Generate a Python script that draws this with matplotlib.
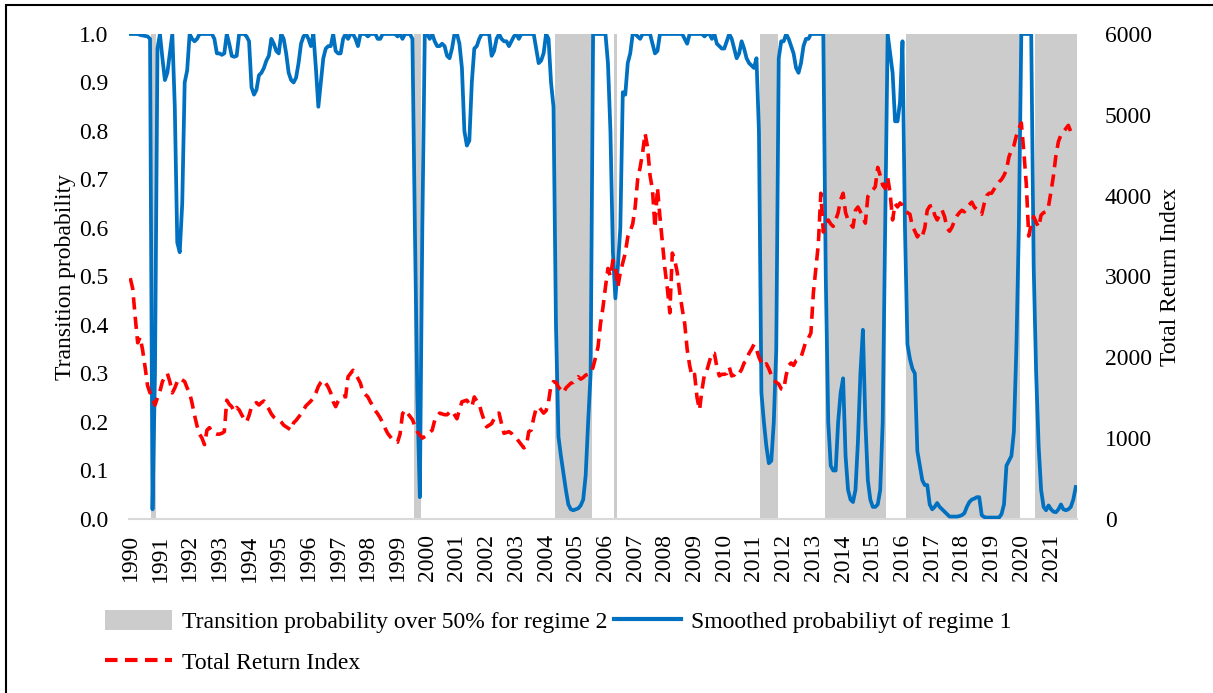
import numpy as np
import pandas as pd
import matplotlib
matplotlib.use("Agg")
import matplotlib.pyplot as plt
from matplotlib.patches import Rectangle, Patch
from matplotlib.lines import Line2D

plt.rcParams['font.family'] = ['Liberation Serif', 'DejaVu Serif']

# smoothed probability of regime 1, monthly, one row per year (Jan 1990 - Nov 2021)
prob_rows = [
    [1.0, 1.0, 1.0, 1.0, 0.998, 0.997, 0.996, 0.995, 0.99, 0.02, 0.3, 0.97],
    [1.0, 0.95, 0.905, 0.92, 0.96, 1.0, 0.85, 0.57, 0.55, 0.65, 0.9, 0.925],
    [1.0, 0.99, 0.985, 0.99, 1.0, 1.0, 1.0, 1.0, 1.0, 1.0, 0.99, 0.96],
    [0.96, 0.957, 0.96, 1.0, 0.98, 0.955, 0.953, 0.955, 1.0, 1.0, 1.0, 0.995],
    [0.985, 0.89, 0.875, 0.885, 0.915, 0.92, 0.93, 0.945, 0.955, 0.99, 0.98, 0.965],
    [0.96, 1.0, 0.99, 0.96, 0.92, 0.905, 0.9, 0.91, 0.94, 0.98, 0.995, 1.0],
    [0.99, 0.975, 1.0, 0.93, 0.85, 0.9, 0.95, 0.97, 0.975, 0.975, 1.0, 0.965],
    [0.96, 0.96, 0.99, 1.0, 0.99, 1.0, 1.0, 0.99, 0.975, 1.0, 1.0, 1.0],
    [0.995, 1.0, 1.0, 1.0, 0.99, 0.99, 1.0, 1.0, 1.0, 1.0, 1.0, 1.0],
    [0.995, 1.0, 0.99, 1.0, 1.0, 1.0, 0.99, 0.6, 0.25, 0.045, 0.6, 1.0],
    [1.0, 0.99, 1.0, 0.985, 0.975, 0.975, 0.98, 0.975, 0.955, 0.95, 0.97, 1.0],
    [1.0, 0.98, 0.93, 0.8, 0.77, 0.78, 0.9, 0.97, 0.975, 0.99, 1.0, 1.0],
    [1.0, 1.0, 0.955, 0.965, 0.99, 1.0, 0.99, 0.985, 0.985, 0.975, 0.985, 0.995],
    [1.0, 0.99, 1.0, 1.0, 1.0, 1.0, 1.0, 1.0, 0.97, 0.94, 0.945, 0.96],
    [1.0, 0.99, 0.9, 0.85, 0.4, 0.17, 0.13, 0.095, 0.06, 0.03, 0.02, 0.018],
    [0.02, 0.022, 0.028, 0.04, 0.09, 0.2, 0.3, 1.0, 1.0, 1.0, 1.0, 1.0],
    [1.0, 0.94, 0.8, 0.55, 0.455, 0.52, 0.6, 0.88, 0.875, 0.94, 0.96, 1.0],
    [1.0, 0.995, 0.99, 1.0, 1.0, 1.0, 1.0, 0.98, 0.96, 0.965, 1.0, 1.0],
    [1.0, 1.0, 1.0, 1.0, 1.0, 1.0, 1.0, 1.0, 0.99, 0.98, 1.0, 1.0],
    [1.0, 1.0, 1.0, 1.0, 0.995, 1.0, 1.0, 0.99, 1.0, 0.98, 0.975, 0.97],
    [0.97, 0.985, 1.0, 0.99, 0.97, 0.95, 0.96, 0.985, 0.97, 0.95, 0.94, 0.935],
    [0.93, 0.95, 0.8, 0.26, 0.2, 0.15, 0.115, 0.12, 0.2, 0.35, 0.95, 0.985],
    [0.985, 1.0, 0.99, 0.975, 0.96, 0.93, 0.92, 0.94, 0.975, 0.99, 0.99, 1.0],
    [1.0, 1.0, 1.0, 1.0, 1.0, 0.5, 0.2, 0.11, 0.1, 0.1, 0.2, 0.26],
    [0.29, 0.13, 0.06, 0.04, 0.035, 0.06, 0.16, 0.3, 0.39, 0.2, 0.08, 0.04],
    [0.025, 0.025, 0.03, 0.06, 0.2, 0.6, 1.0, 0.96, 0.92, 0.82, 0.82, 0.86],
    [0.985, 0.6, 0.36, 0.33, 0.31, 0.3, 0.14, 0.11, 0.08, 0.07, 0.07, 0.03],
    [0.02, 0.025, 0.033, 0.025, 0.02, 0.015, 0.01, 0.005, 0.005, 0.005, 0.005, 0.006],
    [0.008, 0.012, 0.025, 0.035, 0.04, 0.042, 0.045, 0.045, 0.008, 0.004, 0.003, 0.003],
    [0.003, 0.003, 0.003, 0.003, 0.01, 0.03, 0.11, 0.12, 0.13, 0.18, 0.35, 0.6],
    [1.0, 1.0, 1.0, 1.0, 1.0, 0.52, 0.3, 0.15, 0.06, 0.025, 0.018, 0.028],
    [0.02, 0.015, 0.014, 0.02, 0.03, 0.02, 0.018, 0.02, 0.025, 0.04, 0.066],
]

# total return index, monthly, one row per year
tri_rows = [
    [2980, 2850, 2500, 2180, 2250, 2090, 1880, 1650, 1560, 1500, 1410, 1500],
    [1580, 1700, 1760, 1800, 1700, 1560, 1620, 1700, 1740, 1720, 1700, 1620],
    [1560, 1430, 1280, 1150, 1050, 1000, 920, 1100, 1130, 1080, 1060, 1050],
    [1050, 1060, 1080, 1470, 1420, 1390, 1330, 1380, 1350, 1290, 1240, 1200],
    [1280, 1390, 1420, 1440, 1410, 1440, 1460, 1400, 1360, 1300, 1260, 1240],
    [1230, 1200, 1160, 1140, 1120, 1100, 1190, 1220, 1260, 1300, 1350, 1400],
    [1430, 1460, 1500, 1560, 1640, 1690, 1720, 1680, 1630, 1560, 1450, 1390],
    [1460, 1510, 1520, 1510, 1760, 1800, 1840, 1800, 1740, 1680, 1570, 1540],
    [1510, 1450, 1400, 1340, 1300, 1250, 1190, 1120, 1060, 1020, 980, 960],
    [950, 1050, 1300, 1350, 1310, 1270, 1230, 1150, 1080, 1040, 1000, 1020],
    [1040, 1070, 1100, 1220, 1270, 1310, 1300, 1290, 1290, 1320, 1340, 1290],
    [1240, 1350, 1450, 1460, 1470, 1420, 1390, 1510, 1460, 1420, 1310, 1220],
    [1140, 1160, 1180, 1240, 1300, 1310, 1180, 1060, 1070, 1080, 1060, 1020],
    [1000, 960, 920, 880, 900, 1080, 1100, 1250, 1370, 1390, 1350, 1310],
    [1340, 1450, 1660, 1700, 1690, 1630, 1600, 1560, 1620, 1650, 1680, 1690],
    [1720, 1760, 1730, 1750, 1780, 1790, 1800, 1880, 2000, 2130, 2420, 2620],
    [2870, 3100, 3000, 3200, 3120, 2870, 3050, 3170, 3290, 3490, 3560, 3650],
    [3860, 4200, 4350, 4530, 4770, 4600, 4250, 4070, 3600, 4100, 3740, 3420],
    [3100, 2850, 2550, 3290, 3200, 3050, 2800, 2600, 2420, 2100, 1900, 1760],
    [1790, 1500, 1350, 1600, 1790, 1840, 1950, 2050, 2050, 1880, 1770, 1790],
    [1790, 1800, 1880, 1770, 1780, 1820, 1800, 1850, 1930, 1960, 2050, 2100],
    [2160, 2100, 2000, 1930, 1890, 1920, 1860, 1780, 1720, 1690, 1670, 1610],
    [1600, 1780, 1900, 1930, 1900, 1960, 1980, 2000, 2100, 2200, 2240, 2300],
    [2800, 3100, 3400, 4030, 3550, 3660, 3700, 3650, 3620, 3700, 3790, 3950],
    [4030, 3790, 3700, 3650, 3610, 3820, 3860, 3800, 3740, 3660, 3990, 4030],
    [4070, 4110, 4350, 4250, 4130, 4090, 4230, 4030, 3700, 3900, 3860, 3910],
    [3880, 3820, 3790, 3770, 3620, 3560, 3490, 3540, 3500, 3600, 3820, 3870],
    [3880, 3760, 3700, 3760, 3820, 3740, 3600, 3560, 3610, 3690, 3750, 3790],
    [3820, 3800, 3860, 3890, 3920, 3860, 3830, 3790, 3770, 3900, 4000, 4030],
    [4030, 4080, 4130, 4170, 4200, 4250, 4320, 4480, 4560, 4620, 4740, 4830],
    [4900, 4550, 4150, 3500, 3650, 3740, 3670, 3610, 3760, 3790, 3800, 3870],
    [4050, 4250, 4500, 4670, 4750, 4790, 4830, 4870, 4790, 4770, 4750],
]

# months where the transition probability for regime 2 is above 50%
regime2_periods = [
    ("1990-10", "1990-11"),
    ("1999-08", "1999-10"),
    ("2004-05", "2005-07"),
    ("2006-05", "2006-05"),
    ("2011-04", "2011-10"),
    ("2013-06", "2015-06"),
    ("2016-03", "2019-12"),
    ("2020-07", "2021-11"),
]

prob = np.concatenate([np.array(r, dtype=float) for r in prob_rows])
tri = np.concatenate([np.array(r, dtype=float) for r in tri_rows])
dates = pd.date_range("1990-01-01", periods=len(prob), freq="MS")
x = np.arange(len(dates))

regime2 = np.zeros(len(dates))
for start, end in regime2_periods:
    mask = (dates >= pd.Timestamp(start)) & (dates <= pd.Timestamp(end))
    regime2[mask] = 1.0

years = np.arange(1990, 2022)
year_pos = [np.where(dates.year == y)[0][0] for y in years]

W, H = 1213, 693
fig = plt.figure(figsize=(W / 100, H / 100), dpi=100)
ax = fig.add_axes([129 / W, 1 - 519 / H, (1077 - 129) / W, (519 - 34) / H])
ax2 = ax.twinx()

grey = "#CCCCCC"
blue = "#0070C0"
red = "#FF0000"
fs = 17

ax.bar(x, regime2, width=1.0, color=grey, edgecolor="none", zorder=1)
ax.plot(x, prob, color=blue, lw=2.7, solid_joinstyle="round", zorder=3)
ax2.plot(x, tri, color=red, lw=2.6, linestyle=(0, (3.4, 2.0)), zorder=3)

ax.set_xlim(-0.5, len(x) - 0.5)
ax.set_ylim(0, 1.0)
ax2.set_ylim(0, 6000)
ax.set_yticks(np.arange(0, 1.01, 0.1))
ax.set_yticklabels([f"{v:.1f}" for v in np.arange(0, 1.01, 0.1)])
ax2.set_yticks(np.arange(0, 6001, 1000))
ax.set_xticks(year_pos)
ax.set_xticklabels([str(y) for y in years], rotation=90)

for a in (ax, ax2):
    for s in a.spines.values():
        s.set_visible(False)
    a.tick_params(length=0, labelsize=fs)
ax.spines["bottom"].set_visible(True)
ax.spines["bottom"].set_color("#D9D9D9")
ax.spines["bottom"].set_linewidth(1.5)
ax.tick_params(axis="y", pad=15)
ax.tick_params(axis="x", pad=11)
ax2.tick_params(axis="y", pad=20)

ax.set_ylabel("Transition probability", fontsize=fs, labelpad=2)
ax2.set_ylabel("Total Return Index", fontsize=fs, labelpad=6)

handles = [
    Patch(facecolor=grey, edgecolor="none"),
    Line2D([], [], color=red, lw=3, linestyle=(0, (3.0, 1.8))),
    Line2D([], [], color=blue, lw=3),
]
labels = [
    "Transition probability over 50% for regime 2",
    "Total Return Index",
    "Smoothed probabiliyt of regime 1",
]
fig.legend(handles, labels, ncol=2, loc="upper left",
           bbox_to_anchor=(105 / W, 1 - 610 / H), frameon=False,
           fontsize=fs, borderpad=0, borderaxespad=0, handlelength=2.85,
           handleheight=0.9, handletextpad=0.4, columnspacing=0.3,
           labelspacing=0.75)

# border around the whole figure
fig.patches.append(Rectangle((6 / W, -0.05), 1.2, 1 - 5 / H + 0.05,
                             transform=fig.transFigure, fill=False,
                             edgecolor="black", lw=1.5))

fig.savefig("out.png", dpi=100)
